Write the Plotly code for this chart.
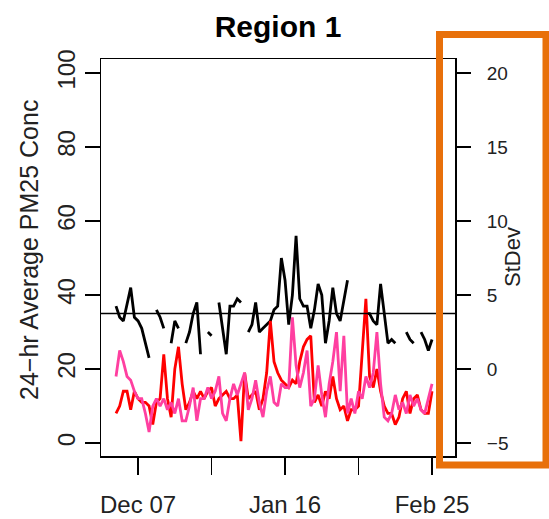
import pandas as pd
import plotly.graph_objects as go

# ---------------- data ----------------
start_date = "2007-12-01"
n_days = 87
dates = pd.date_range(start_date, periods=n_days, freq="D")

black_series = [37, 34, 33, 38, 42, 34, 33, 31, 27, 23,
                None, 36, 34, 31, None, 27, 33, 31, None, 27,
                30, 35, 38, 24, None, 30, 29, None, 38, 31,
                24, 37, 37, 39, 38, None, 30, 32, 38, 30,
                31, 32, 33, 36, 37, 50, 44, 32, 40, 56,
                39, 37, 37, 31, 36, 43, 40, 27, 33, 42,
                35, 33, 38, 44, None, None, None, None, 35, 35,
                33, 32, 43, 35, 27, 28, 27, None, None, 30,
                28, 27, None, 30, 28, 25, 28]

red_series = [8, 10, 14, 14, 9, 14, 12, 11, 11, 10,
              5, 11, 12, 24, 12, 7, 20, 26, 16, 9,
              11, 14, 12, 14, 12, 14, 15, 10, 12, 13,
              14, 12, 12, 13, 0.5, 19, 12, 13, 14, 9,
              12, 19, 33, 22, 19, 17, 16, 15, 17, 16,
              22, 26, 28, 29, 11, 13, 10, 14, 12, 18,
              12, 9, 10, 6, 9, 9, 10, 25, 39, 18,
              15, 20, 14, 10, 8, 8, 5, 7, 12, 14,
              8, 12, 13, 9, 8, 8, 14]

pink_series = [18, 25, 22, 18, 17, 14, 12, 12, 8, 3,
               10, 12, 10, 12, 9, 11, 8, 12, 6, 6,
               10, 15, 6, 12, 12, 15, 12, 14, 18, 8,
               6, 12, 16, 13, 16, 19, 9, 12, 17, 11,
               7, 14, 18, 11, 10, 16, 15, 15, 34, 21,
               15, 19, 25, 10, 12, 21, 13, 7, 16, 22,
               30, 14, 29, 8, 12, 8, 14, 12, 18, 15,
               19, 30, 16, 7, 6, 8, 13, 9, 11, 8,
               13, 10, 12, 9, 8, 12, 16]

threshold = 35

x_tick_dates = ["2007-12-07", "2007-12-27", "2008-01-16", "2008-02-05", "2008-02-25"]
x_tick_labels = ["Dec 07", "", "Jan 16", "", "Feb 25"]
left_ticks = [0, 20, 40, 60, 80, 100]
right_ticks = [-5, 0, 5, 10, 15, 20]

title_text = "Region 1"
left_title = "24\u2212hr Average PM25 Conc"
right_title = "StDev"

# ---------------- layout geometry (pixels) ----------------
W, H = 549, 519
L, R, T, B = 101, 455, 59, 456
FONT = "Liberation Sans, Arial, Helvetica, sans-serif"

def px_x(p):
    return (p - L) / (R - L)

def px_y(p):
    return (B - p) / (B - T)

LW = 2.8
fig = go.Figure()
fig.add_trace(go.Scatter(x=dates, y=black_series, mode="lines",
                         line=dict(color="black", width=LW),
                         connectgaps=False, showlegend=False))
fig.add_trace(go.Scatter(x=dates, y=red_series, mode="lines",
                         line=dict(color="#FF0000", width=LW),
                         connectgaps=False, showlegend=False))
fig.add_trace(go.Scatter(x=dates, y=pink_series, mode="lines",
                         line=dict(color="#FF3FA0", width=LW),
                         connectgaps=False, showlegend=False))
# trace bound to the right axis so it is drawn
fig.add_trace(go.Scatter(x=[None], y=[None], yaxis="y2", showlegend=False,
                         hoverinfo="skip"))

fig.add_shape(type="line", xref="paper", x0=0, x1=1, yref="y",
              y0=threshold, y1=threshold, line=dict(color="black", width=1.5))

# orange highlight box
fig.add_shape(type="rect", xref="paper", yref="paper",
              x0=px_x(439.5), x1=px_x(546), y0=px_y(465), y1=px_y(34.5),
              line=dict(color="#E8700A", width=7), layer="above")

fig.update_layout(
    width=W, height=H,
    margin=dict(l=L, r=W - R, t=T, b=H - B, pad=0, autoexpand=False),
    paper_bgcolor="white", plot_bgcolor="white",
    font=dict(family=FONT, color="#222222", size=24),
    title=dict(text="<b>" + title_text + "</b>", x=0.5, xref="paper",
               xanchor="center", y=1 - 26 / H, yref="container",
               yanchor="middle", automargin=False,
               font=dict(size=30, color="black", family=FONT)),
    xaxis=dict(type="date", automargin=False,
               range=["2007-11-26 22:00", "2008-03-02 06:00"],
               tickvals=x_tick_dates, ticktext=x_tick_labels,
               ticks="outside", ticklen=17, tickwidth=1.5, tickcolor="black",
               showline=True, mirror=True, linecolor="black", linewidth=1.5,
               showgrid=False, zeroline=False, ticklabelstandoff=10,
               tickfont=dict(size=24, color="#222222")),
    yaxis=dict(range=[-3.5, 103.8], tickvals=left_ticks, automargin=False,
               ticks="outside", ticklen=15, tickwidth=1.5, tickcolor="black",
               showline=True, mirror=True, linecolor="black", linewidth=1.5,
               showgrid=False, zeroline=False, tickangle=-90,
               tickfont=dict(size=24, color="#222222")),
    yaxis2=dict(overlaying="y", side="right", anchor="x", automargin=False,
                range=[-3.5 / 4 - 5, 103.8 / 4 - 5], tickvals=right_ticks,
                ticks="outside", ticklen=15, tickwidth=1.5, tickcolor="black",
                showline=False, showgrid=False, zeroline=False,
                ticklabelstandoff=12,
                tickfont=dict(size=19, color="#222222")),
    annotations=[
        dict(text=left_title, xref="paper", yref="paper", x=px_x(29),
             y=px_y(250), xanchor="center", yanchor="middle", textangle=-90,
             showarrow=False, font=dict(size=25, color="#222222", family=FONT)),
        dict(text=right_title, xref="paper", yref="paper", x=px_x(512),
             y=px_y(257), xanchor="center", yanchor="middle", textangle=-90,
             showarrow=False, font=dict(size=22, color="#222222", family=FONT)),
    ],
)

fig.write_html("out.html",
               config={"displayModeBar": False, "staticPlot": True},
               post_script="document.body.style.margin='0';"
                           "document.body.style.overflow='hidden';")
